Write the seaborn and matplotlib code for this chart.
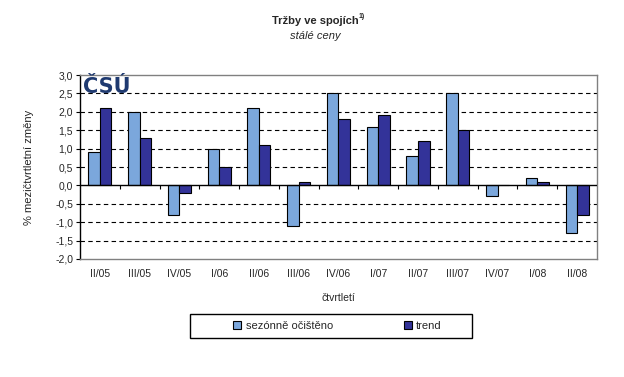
import numpy as np
import pandas as pd
import matplotlib
matplotlib.use("Agg")
import matplotlib.pyplot as plt
import seaborn as sns
from matplotlib.patches import Rectangle

# --- data ---
quarters = ["II/05", "III/05", "IV/05", "I/06", "II/06", "III/06", "IV/06",
            "I/07", "II/07", "III/07", "IV/07", "I/08", "II/08"]
seasonal = [0.9, 2.0, -0.8, 1.0, 2.1, -1.1, 2.5, 1.6, 0.8, 2.5, -0.3, 0.2, -1.3]
trend = [2.1, 1.3, -0.2, 0.5, 1.1, 0.1, 1.8, 1.9, 1.2, 1.5, 0.0, 0.1, -0.8]
series_names = ["sezónně očištěno", "trend"]
colors = ["#7BA7DC", "#333399"]

df = pd.DataFrame({
    "quarter": quarters * 2,
    "value": seasonal + trend,
    "series": [series_names[0]] * len(quarters) + [series_names[1]] * len(quarters),
})

sns.set_style("white")
plt.rcParams["font.family"] = ["Liberation Sans", "DejaVu Sans"]

fig = plt.figure(figsize=(6.24, 3.77), dpi=100)
ax = fig.add_axes([0.1282, 0.313, 0.8285, 0.488])

sns.barplot(data=df, x="quarter", y="value", hue="series", order=quarters,
            hue_order=series_names, palette=colors, width=0.58,
            edgecolor="black", linewidth=0.8, saturation=1, ax=ax, legend=True)

ax.set_ylim(-2.0, 3.0)
ax.set_xlim(-0.5, len(quarters) - 0.5)
yt = np.arange(-2.0, 3.01, 0.5)
ax.set_yticks(yt)
ax.set_yticklabels([f"{v:.1f}".replace(".", ",") for v in yt], fontsize=7.5)
for v in yt[1:-1]:
    if abs(v) > 1e-9:
        ax.axhline(v, color="black", lw=0.8, ls=(0, (4, 3)), zorder=0)
ax.axhline(0, color="black", lw=1.0, zorder=3)
ax.vlines(np.arange(len(quarters) - 1) + 0.5, -0.11, 0, color="black", lw=0.8, zorder=3)

ax.set_xticks(range(len(quarters)))
ax.set_xticklabels(quarters, fontsize=7.5)
ax.tick_params(axis="x", length=0, pad=7)
ax.tick_params(axis="y", direction="out", length=3, width=0.8, color="black", pad=2, left=True)

for s in ["top", "right", "bottom"]:
    ax.spines[s].set_visible(True)
    ax.spines[s].set_color("#808080")
    ax.spines[s].set_linewidth(1.0)
ax.spines["left"].set_color("black")
ax.spines["left"].set_linewidth(1.0)

ax.set_xlabel("čtvrtletí", fontsize=7.5, labelpad=10)
ax.set_ylabel("% mezičtvrtletní změny", fontsize=8, labelpad=15)

fig.text(0.505, 0.945, "Tržby ve spojích", fontsize=8, fontweight="bold", ha="center", va="center")
fig.text(0.574, 0.955, "1)", fontsize=5, fontweight="bold", ha="left", va="center")
fig.text(0.505, 0.905, "stálé ceny", fontsize=8, style="italic", ha="center", va="center")

# logo
ax.text(0.005, 0.99, "ČSÚ", transform=ax.transAxes, fontsize=15, fontweight="heavy",
        color="#1F3A70", family="DejaVu Sans", ha="left", va="top")

ax.get_legend().remove()
handles, labels = ax.get_legend_handles_labels()
leg = fig.legend(handles, labels, ncol=2, loc="center left",
                 bbox_to_anchor=(0.365, 0.136), fontsize=8,
                 frameon=False, handlelength=0.7, handleheight=0.7,
                 handletextpad=0.4, columnspacing=6.4, borderpad=0)
fig.patches.append(Rectangle((0.305, 0.104), 0.451, 0.064, transform=fig.transFigure,
                             fill=False, edgecolor="black", linewidth=1.0))

fig.savefig("out.png", dpi=100)
